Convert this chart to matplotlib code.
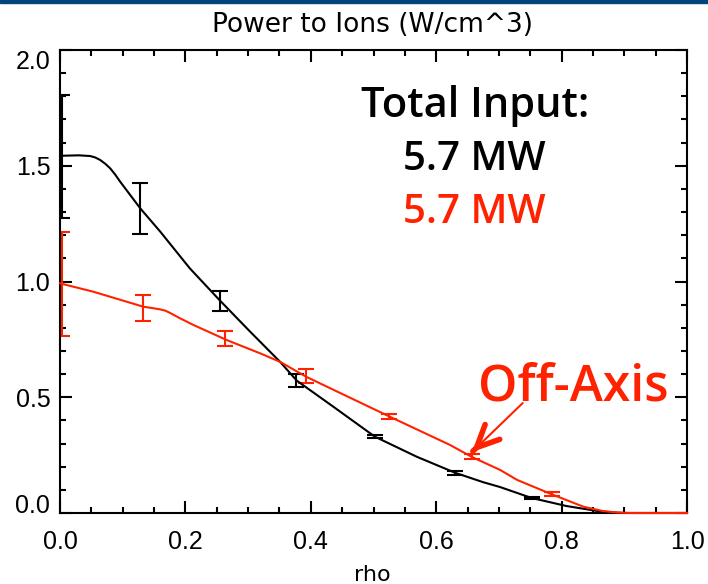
import numpy as np
import matplotlib
matplotlib.use('Agg')
import matplotlib.pyplot as plt
from matplotlib.patches import Rectangle

# %%
# curves
rho_black = [0.0, 0.03, 0.048, 0.056, 0.064, 0.072, 0.080, 0.088, 0.096, 0.128, 0.160,
             0.207, 0.255, 0.303, 0.351, 0.3775, 0.436, 0.502, 0.569, 0.630, 0.675,
             0.702, 0.752, 0.808, 0.861, 0.885, 0.90, 1.0]
p_black = [1.543, 1.545, 1.542, 1.536, 1.525, 1.509, 1.489, 1.462, 1.431, 1.316, 1.215,
           1.057, 0.918, 0.784, 0.653, 0.572, 0.459, 0.330, 0.243, 0.174, 0.133,
           0.112, 0.065, 0.030, 0.007, 0.002, 0.0, 0.0]

rho_red = [0.0, 0.053, 0.106, 0.133, 0.150, 0.159, 0.168, 0.175, 0.190, 0.213, 0.266,
           0.319, 0.351, 0.393, 0.526, 0.622, 0.657, 0.702, 0.729, 0.785, 0.835,
           0.865, 0.888, 0.91, 1.0]
p_red = [0.992, 0.956, 0.913, 0.891, 0.884, 0.880, 0.874, 0.865, 0.843, 0.812, 0.747,
         0.690, 0.653, 0.588, 0.416, 0.294, 0.242, 0.186, 0.143, 0.080, 0.027,
         0.009, 0.002, 0.0, 0.0]

# error bars
rho_err_black = [0.003, 0.128, 0.255, 0.377, 0.502, 0.630, 0.752]
val_err_black = [1.54, 1.314, 0.917, 0.573, 0.330, 0.174, 0.065]
err_black = [0.265, 0.110, 0.043, 0.027, 0.008, 0.008, 0.006]

rho_err_red = [0.003, 0.133, 0.263, 0.393, 0.525, 0.657, 0.784]
val_err_red = [0.99, 0.886, 0.755, 0.590, 0.416, 0.243, 0.082]
err_red = [0.225, 0.055, 0.033, 0.030, 0.012, 0.010, 0.010]

red = '#FF2200'

# %%
fig = plt.figure(figsize=(7.08, 5.84), dpi=100)
fig.patches.append(Rectangle((0, 1 - 3 / 584), 1, 3 / 584, transform=fig.transFigure,
                             color='#00457C', zorder=0))
ax = fig.add_axes([60 / 708, 71 / 584, 627 / 708, 463 / 584])

ax.plot(rho_black, p_black, color='black', lw=1.5, clip_on=False, zorder=3)
ax.plot(rho_red, p_red, color=red, lw=1.5, clip_on=False, zorder=3.1)
ax.errorbar(rho_err_black, val_err_black, yerr=err_black, fmt='none', ecolor='black',
            elinewidth=1.5, capsize=6, capthick=1.5)
ax.errorbar(rho_err_red, val_err_red, yerr=err_red, fmt='none', ecolor=red,
            elinewidth=1.5, capsize=6, capthick=1.5)

ax.set_xlim(0, 1)
ax.set_ylim(0, 2)
ax.set_xticks(np.arange(0, 1.01, 0.2))
ax.set_xticks(np.arange(0, 1.01, 0.05), minor=True)
ax.set_yticks(np.arange(0, 2.01, 0.5))
ax.set_yticks(np.arange(0, 2.01, 0.1), minor=True)
ax.set_xticklabels(['%.1f' % v for v in np.arange(0, 1.01, 0.2)])
ax.set_yticklabels(['%.1f' % v for v in np.arange(0, 2.01, 0.5)])
ax.tick_params(which='both', direction='in', top=True, right=True, width=1.5,
               labelsize=18)
ax.tick_params(which='major', length=8.5)
ax.tick_params(which='minor', length=4.3)
ax.tick_params(axis='x', pad=12)
ax.tick_params(axis='y', pad=7)
for lab in ax.get_xticklabels() + ax.get_yticklabels():
    lab.set_family('Liberation Sans')
ylabs = ax.get_yticklabels()
ylabs[0].set_va('baseline')
ylabs[-1].set_va('top')
for s in ax.spines.values():
    s.set_linewidth(1.5)

fig.text(373 / 708, 1 - 25 / 584, 'Power to Ions (W/cm^3)', ha='center', va='center',
         fontsize=19, family='DejaVu Sans')
fig.text(372 / 708, 1 - 575 / 584, 'rho', ha='center', va='center',
         fontsize=16, family='DejaVu Sans')

big = dict(ha='center', va='baseline', family='Open Sans', weight='semibold')
ax.text(0.662, 1.711, 'Total Input:', color='black', fontsize=30, **big)
ax.text(0.661, 1.482, '5.7 MW', color='black', fontsize=29, **big)
ax.text(0.661, 1.253, '5.7 MW', color=red, fontsize=29, **big)
ax.text(0.819, 0.488, 'Off-Axis', color=red, fontsize=36, **big)

# arrow: thin shaft plus thick head
ax.annotate('', xy=(0.657, 0.263), xytext=(0.738, 0.475),
            arrowprops=dict(arrowstyle='-', color=red, lw=1.5, shrinkA=0, shrinkB=0))
ax.annotate('', xy=(0.657, 0.263), xytext=(0.6585, 0.267),
            arrowprops=dict(arrowstyle='->,head_length=1.6,head_width=0.75', color=red,
                            lw=4, shrinkA=0, shrinkB=0))

fig.savefig('out.png', dpi=100)
